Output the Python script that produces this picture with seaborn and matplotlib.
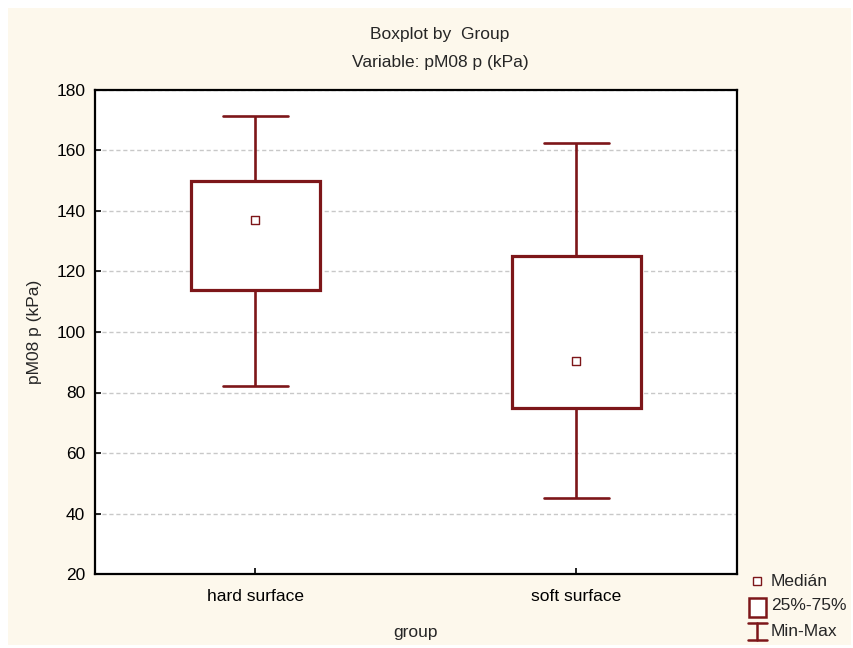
import numpy as np
import pandas as pd
import seaborn as sns
import matplotlib
matplotlib.use("Agg")
import matplotlib.pyplot as plt
from matplotlib.patches import Rectangle
from matplotlib.lines import Line2D

# Five-number summaries of pM08 p (kPa) per surface group
groups = ["hard surface", "soft surface"]
minimum = [82.0, 45.0]
q25 = [114.0, 75.0]
median = [137.0, 90.5]
q75 = [150.0, 125.0]
maximum = [171.5, 162.5]

yticks = [20, 40, 60, 80, 100, 120, 140, 160, 180]

# Long-form table: with five points per group, the linear quartiles fall exactly
# on q25 / median / q75, and whis=(0, 100) puts the whiskers at min / max.
rows = []
for i, g in enumerate(groups):
    for v in (minimum[i], q25[i], median[i], q75[i], maximum[i]):
        rows.append({"group": g, "value": v})
df = pd.DataFrame(rows)
med_df = pd.DataFrame({"group": groups, "value": median})

sns.set_style("white")
plt.rcParams["font.family"] = ["Liberation Sans", "DejaVu Sans"]

RED = "#7D1619"
CREAM = "#FDF8EC"
W, H = 854, 648
FS = 12.5

fig = plt.figure(figsize=(W / 100, H / 100), dpi=100, facecolor="white")
# cream panel behind everything, inset from the figure edge
fig.patches.append(Rectangle((8 / W, 3 / H), (W - 11) / W, (H - 11) / H,
                             transform=fig.transFigure, facecolor=CREAM,
                             edgecolor="none", zorder=-10))

ax = fig.add_axes([95 / W, (H - 574) / H, 642 / W, 484 / H])
ax.set_facecolor("white")

sns.boxplot(data=df, x="group", y="value", ax=ax, whis=(0, 100), width=0.4,
            color="white", linecolor=RED, linewidth=2.0, fliersize=0,
            medianprops={"visible": False},
            boxprops={"facecolor": "white", "edgecolor": RED, "linewidth": 2.3, "zorder": 3},
            whiskerprops={"color": RED, "linewidth": 1.9, "zorder": 3},
            capprops={"color": RED, "linewidth": 1.9, "zorder": 3})
sns.scatterplot(data=med_df, x="group", y="value", ax=ax, marker="s", s=36,
                facecolor="white", edgecolor=RED, linewidth=1.0, zorder=5,
                legend=False)

ax.set_xlim(-0.5, 1.5)
ax.set_ylim(20, 180)
ax.set_yticks(yticks)
ax.yaxis.grid(True, color="#C8C8C8", linestyle=(0, (3, 2)), linewidth=1.0, zorder=0)
ax.set_axisbelow(True)
ax.tick_params(axis="both", direction="in", length=4, width=1.2, colors="black",
               labelsize=FS, left=True, bottom=True)
ax.tick_params(axis="y", pad=7)
ax.tick_params(axis="x", pad=11)
for s in ax.spines.values():
    s.set_color("black")
    s.set_linewidth(1.6)
ax.set_xlabel("")
ax.set_ylabel("")

fig.text(35 / W, 1 - 332 / H, "pM08 p (kPa)", rotation=90, ha="center",
         va="center", fontsize=FS)
fig.text(416 / W, 1 - 632 / H, "group", ha="center", va="center", fontsize=FS)
fig.text(440 / W, 1 - 34 / H, "Boxplot by  Group", ha="center", va="center", fontsize=FS)
fig.text(440 / W, 1 - 63 / H, "Variable: pM08 p (kPa)", ha="center", va="center", fontsize=FS)

# legend keys drawn in figure pixels
def fx(x):
    return x / W

def fy(y):
    return 1 - y / H

fig.lines.append(Line2D([fx(757)], [fy(581)], transform=fig.transFigure, marker="s",
                        markersize=5.5, markerfacecolor="white", markeredgecolor=RED,
                        markeredgewidth=1.0, linestyle="none"))
fig.patches.append(Rectangle((fx(749), fy(617)), 17 / W, 19 / H,
                             transform=fig.transFigure, facecolor="white",
                             edgecolor=RED, linewidth=1.8))
for xs, ys in (([757, 757], [623, 640]), ([748, 767], [623, 623]), ([748, 767], [640, 640])):
    fig.lines.append(Line2D([fx(v) for v in xs], [fy(v) for v in ys],
                            transform=fig.transFigure, color=RED, linewidth=1.8))
for y, t in ((581, "Medián"), (606, "25%-75%"), (631, "Min-Max")):
    fig.text(fx(771), fy(y), t, ha="left", va="center", fontsize=FS)

fig.savefig("out.png", dpi=100, facecolor="white")
